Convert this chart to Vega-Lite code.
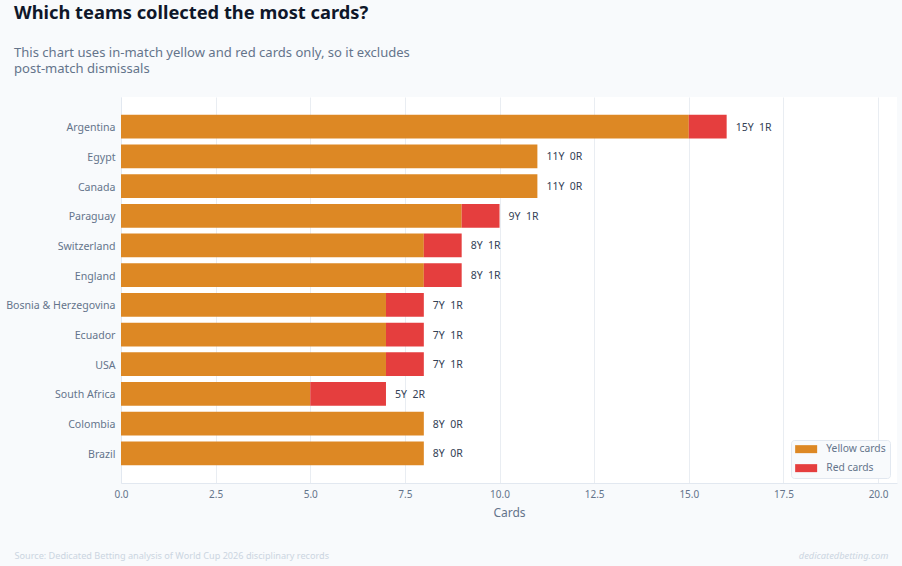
{
  "$schema": "https://vega.github.io/schema/vega-lite/v6.json",
  "autosize": "none",
  "padding": {"left": 121, "top": 97, "right": 5, "bottom": 83},
  "width": 776,
  "height": 386,
  "background": "#f8fafc",
  "view": {"fill": "#ffffff", "stroke": null},
  "config": {"font": "Noto Sans"},
  "title": {
    "text": "Which teams collected the most cards?",
    "subtitle": ["This chart uses in-match yellow and red cards only, so it excludes", "post-match dismissals"],
    "anchor": "start",
    "frame": "group",
    "dx": -107,
    "offset": 20,
    "fontSize": 18.3,
    "fontWeight": "bold",
    "color": "#0f172a",
    "subtitleFontSize": 13.05,
    "subtitleColor": "#64748b",
    "subtitlePadding": 24,
    "subtitleLineHeight": 16
  },
  "datasets": {
    "cards": [
      {"team": "Argentina", "type": "Yellow cards", "cards": 15},
      {"team": "Argentina", "type": "Red cards", "cards": 1},
      {"team": "Egypt", "type": "Yellow cards", "cards": 11},
      {"team": "Egypt", "type": "Red cards", "cards": 0},
      {"team": "Canada", "type": "Yellow cards", "cards": 11},
      {"team": "Canada", "type": "Red cards", "cards": 0},
      {"team": "Paraguay", "type": "Yellow cards", "cards": 9},
      {"team": "Paraguay", "type": "Red cards", "cards": 1},
      {"team": "Switzerland", "type": "Yellow cards", "cards": 8},
      {"team": "Switzerland", "type": "Red cards", "cards": 1},
      {"team": "England", "type": "Yellow cards", "cards": 8},
      {"team": "England", "type": "Red cards", "cards": 1},
      {"team": "Bosnia & Herzegovina", "type": "Yellow cards", "cards": 7},
      {"team": "Bosnia & Herzegovina", "type": "Red cards", "cards": 1},
      {"team": "Ecuador", "type": "Yellow cards", "cards": 7},
      {"team": "Ecuador", "type": "Red cards", "cards": 1},
      {"team": "USA", "type": "Yellow cards", "cards": 7},
      {"team": "USA", "type": "Red cards", "cards": 1},
      {"team": "South Africa", "type": "Yellow cards", "cards": 5},
      {"team": "South Africa", "type": "Red cards", "cards": 2},
      {"team": "Colombia", "type": "Yellow cards", "cards": 8},
      {"team": "Colombia", "type": "Red cards", "cards": 0},
      {"team": "Brazil", "type": "Yellow cards", "cards": 8},
      {"team": "Brazil", "type": "Red cards", "cards": 0}
    ],
    "labels": [
      {"team": "Argentina", "total": 16, "label": "15Y\u00a0\u00a01R"},
      {"team": "Egypt", "total": 11, "label": "11Y\u00a0\u00a00R"},
      {"team": "Canada", "total": 11, "label": "11Y\u00a0\u00a00R"},
      {"team": "Paraguay", "total": 10, "label": "9Y\u00a0\u00a01R"},
      {"team": "Switzerland", "total": 9, "label": "8Y\u00a0\u00a01R"},
      {"team": "England", "total": 9, "label": "8Y\u00a0\u00a01R"},
      {"team": "Bosnia & Herzegovina", "total": 8, "label": "7Y\u00a0\u00a01R"},
      {"team": "Ecuador", "total": 8, "label": "7Y\u00a0\u00a01R"},
      {"team": "USA", "total": 8, "label": "7Y\u00a0\u00a01R"},
      {"team": "South Africa", "total": 7, "label": "5Y\u00a0\u00a02R"},
      {"team": "Colombia", "total": 8, "label": "8Y\u00a0\u00a00R"},
      {"team": "Brazil", "total": 8, "label": "8Y\u00a0\u00a00R"}
    ]
  },
  "encoding": {
    "y": {
      "field": "team",
      "type": "nominal",
      "sort": ["Argentina", "Egypt", "Canada", "Paraguay", "Switzerland", "England", "Bosnia & Herzegovina", "Ecuador", "USA", "South Africa", "Colombia", "Brazil"],
      "scale": {"paddingInner": 0.2, "paddingOuter": 0.6},
      "axis": {
        "title": "Source: Dedicated Betting analysis of World Cup 2026 disciplinary records",
        "titleAngle": 0,
        "titleAlign": "left",
        "titleBaseline": "alphabetic",
        "titleX": -107,
        "titleY": 461,
        "titleFontSize": 9.15,
        "titleFontWeight": "normal",
        "titleColor": "#cbd5e1",
        "labelColor": "#64748b",
        "labelFontSize": 10.6,
        "labelPadding": 6,
        "labelOffset": 1.5,
        "ticks": false,
        "domainColor": "#e2e8f0",
        "grid": false
      }
    }
  },
  "layer": [
    {
      "data": {"name": "cards"},
      "mark": {"type": "bar"},
      "encoding": {
        "x": {
          "field": "cards",
          "type": "quantitative",
          "stack": "zero",
          "scale": {"domain": [0, 20.5], "nice": false},
          "axis": {
            "title": "Cards",
            "values": [0, 2.5, 5, 7.5, 10, 12.5, 15, 17.5, 20],
            "format": ".1f",
            "titleColor": "#64748b",
            "titleFontSize": 12,
            "titleFontWeight": "normal",
            "titlePadding": 8,
            "labelColor": "#64748b",
            "labelFontSize": 10,
            "labelPadding": 6,
            "labelFlush": false,
            "ticks": false,
            "domainColor": "#e2e8f0",
            "gridColor": "#e9edf2"
          }
        },
        "order": {"field": "type", "sort": "descending"},
        "color": {
          "field": "type",
          "type": "nominal",
          "sort": ["Yellow cards", "Red cards"],
          "scale": {"domain": ["Yellow cards", "Red cards"], "range": ["#dd8824", "#e53e3e"]},
          "legend": {
            "title": null,
            "orient": "none",
            "legendX": 670,
            "legendY": 343,
            "fillColor": "#f8fafc",
            "strokeColor": "#e2e8f0",
            "cornerRadius": 3,
            "padding": 4,
            "labelColor": "#64748b",
            "labelFontSize": 10.3,
            "labelOffset": 21,
            "rowPadding": 8,
            "symbolType": "M-1,-0.8H3.4V0.8H-1Z",
            "symbolSize": 100,
            "symbolStrokeWidth": 0,
            "symbolOpacity": 1
          }
        }
      }
    },
    {
      "data": {"name": "labels"},
      "mark": {"type": "text", "align": "left", "baseline": "middle", "dx": 9, "dy": 1, "fontSize": 10.5, "color": "#334155"},
      "encoding": {
        "x": {
          "field": "total",
          "type": "quantitative",
          "scale": {"domain": [0, 20.5], "nice": false},
          "axis": {
            "orient": "top",
            "title": "dedicatedbetting.com",
            "titleAnchor": "end",
            "titleAlign": "right",
            "titleBaseline": "alphabetic",
            "titleX": 767,
            "titleY": 461,
            "titleFontSize": 9.3,
            "titleFontStyle": "italic",
            "titleFontWeight": "normal",
            "titleColor": "#cbd5e1",
            "labels": false,
            "ticks": false,
            "domain": false,
            "grid": false
          }
        },
        "text": {"field": "label", "type": "nominal"}
      }
    }
  ],
  "resolve": {"scale": {"x": "independent"}, "axis": {"x": "independent"}}
}
